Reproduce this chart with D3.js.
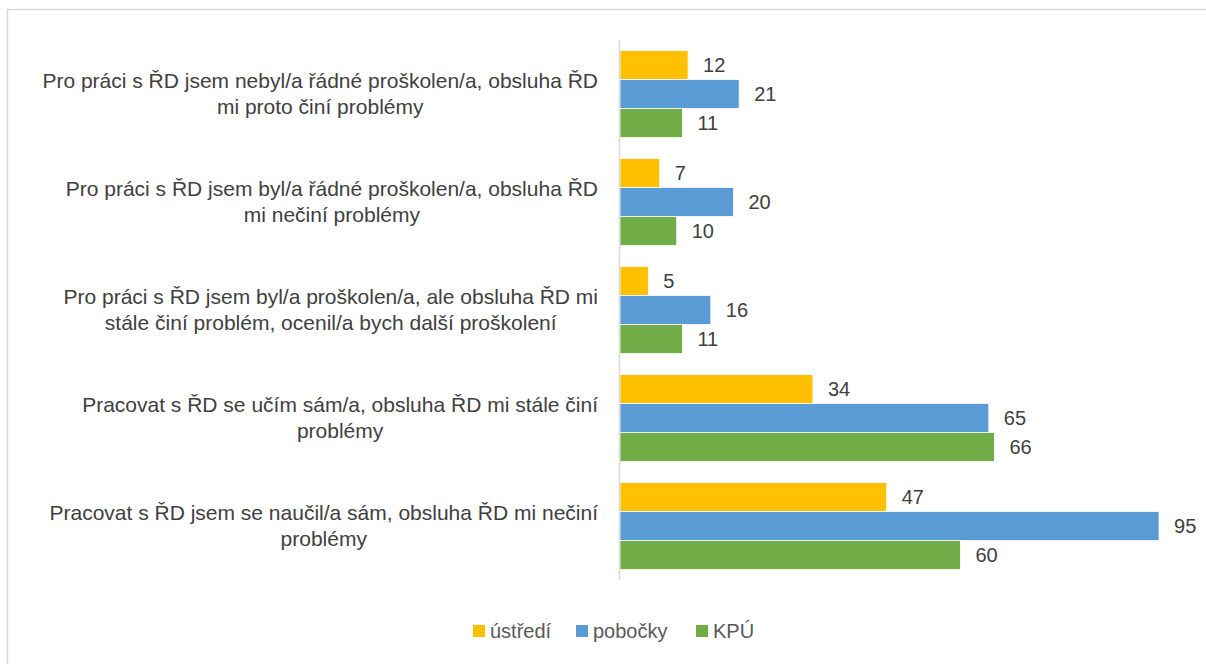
<!DOCTYPE html>
<html>
<head>
<meta charset="utf-8">
<script src="https://cdn.jsdelivr.net/npm/d3@7"></script>
<style>
	body { margin: 0; background: #fff; }
</style>
</head>
<body>
<div id="chart"></div>
<script>
/* DATA */

const categories = [
	["Pro práci s ŘD jsem nebyl/a řádné proškolen/a, obsluha ŘD", "mi proto činí problémy"],
	["Pro práci s ŘD jsem byl/a řádné proškolen/a, obsluha ŘD", "mi nečiní problémy"],
	["Pro práci s ŘD jsem byl/a proškolen/a, ale obsluha ŘD mi", "stále činí problém, ocenil/a bych další proškolení"],
	["Pracovat s ŘD se učím sám/a, obsluha ŘD mi stále činí", "problémy"],
	["Pracovat s ŘD jsem se naučil/a sám, obsluha ŘD mi nečiní", "problémy"]
];
const seriesNames = ["ústředí", "pobočky", "KPÚ"];
const ustredi = [12, 7, 5, 34, 47];
const pobocky = [21, 20, 16, 65, 95];
const kpu = [11, 10, 11, 66, 60];
const colors = ["#ffc000", "#5b9bd5", "#70ad47"];

/* SET UP */

const w = 1206;
const h = 664;
const m = { top: 40, right: 47, bottom: 84, left: 620 };
const font = "'Liberation Sans', Arial, sans-serif";
const fs = 20;

const svg = d3
	.select("#chart")
	.append("svg")
	.attr("width", w)
	.attr("height", h)
	.style("font-family", font);

// chart frame
svg
	.append("rect")
	.attr("x", 7.5)
	.attr("y", 9.5)
	.attr("width", w + 10)
	.attr("height", h + 10)
	.attr("fill", "none")
	.attr("stroke", "#d9d9d9")
	.attr("stroke-width", 1.5);

const x = d3
	.scaleLinear()
	.domain([0, 100])
	.range([m.left, m.left + 567.4]);

const y0 = d3
	.scaleBand()
	.domain(d3.range(categories.length))
	.range([m.top, h - m.bottom])
	.paddingInner(21 / 108)
	.paddingOuter(10.5 / 108);

const y1 = d3
	.scaleBand()
	.domain(d3.range(seriesNames.length))
	.range([0, y0.bandwidth()]);

const seriesValues = [ustredi, pobocky, kpu];

/* BARS */

const groups = svg
	.selectAll(".group")
	.data(categories)
	.join("g")
	.attr("class", "group")
	.attr("transform", (d, i) => `translate(0,${y0(i)})`);

groups
	.selectAll("rect")
	.data((d, i) => seriesValues.map((s, j) => ({ s: j, v: s[i] })))
	.join("rect")
	.attr("x", x(0))
	.attr("y", (d) => y1(d.s))
	.attr("width", (d) => x(d.v) - x(0))
	.attr("height", y1.bandwidth())
	.attr("fill", (d) => colors[d.s])
	.attr("stroke", "#fff")
	.attr("stroke-width", 0.8);

groups
	.selectAll(".val")
	.data((d, i) => seriesValues.map((s, j) => ({ s: j, v: s[i] })))
	.join("text")
	.attr("class", "val")
	.attr("x", (d) => x(d.v) + 15)
	.attr("y", (d) => y1(d.s) + y1.bandwidth() / 2)
	.attr("dy", "0.35em")
	.attr("font-family", font)
	.attr("font-size", fs)
	.attr("fill", "#404040")
	.text((d) => d.v);

// category labels: block centred, longest line ends at x = 598
const catLabels = svg
	.selectAll(".cat")
	.data(categories)
	.join("text")
	.attr("class", "cat")
	.attr("text-anchor", "middle")
	.attr("font-family", font)
	.attr("font-size", 21)
	.attr("fill", "#404040");

catLabels
	.selectAll("tspan")
	.data((d, i) => d.map((line, k) => ({ line, k, i, n: d.length })))
	.join("tspan")
	.attr("y", (d) => y0(d.i) + y0.bandwidth() / 2 + (d.k - (d.n - 1) / 2) * 26)
	.attr("dy", "0.35em")
	.text((d) => d.line);

catLabels.each(function () {
	const spans = d3.select(this).selectAll("tspan");
	let maxW = 0;
	spans.each(function () {
		maxW = Math.max(maxW, this.getComputedTextLength());
	});
	spans.attr("x", 598 - maxW / 2);
});

// axis line
svg
	.append("line")
	.attr("x1", x(0) - 0.5)
	.attr("x2", x(0) - 0.5)
	.attr("y1", m.top)
	.attr("y2", h - m.bottom)
	.attr("stroke", "#d9d9d9")
	.attr("stroke-width", 1.5);

/* LEGEND */

const legend = svg.append("g").attr("transform", "translate(0,631)");
const legendX = [473, 576, 696];

const items = legend
	.selectAll("g")
	.data(seriesNames)
	.join("g")
	.attr("transform", (d, i) => `translate(${legendX[i]},0)`);

items
	.append("rect")
	.attr("x", 0)
	.attr("y", -6)
	.attr("width", 12)
	.attr("height", 12)
	.attr("fill", (d, i) => colors[i]);

items
	.append("text")
	.attr("x", 17)
	.attr("dy", "0.35em")
	.attr("font-family", font)
	.attr("font-size", fs)
	.attr("fill", "#595959")
	.text((d) => d);
</script>
</body>
</html>
